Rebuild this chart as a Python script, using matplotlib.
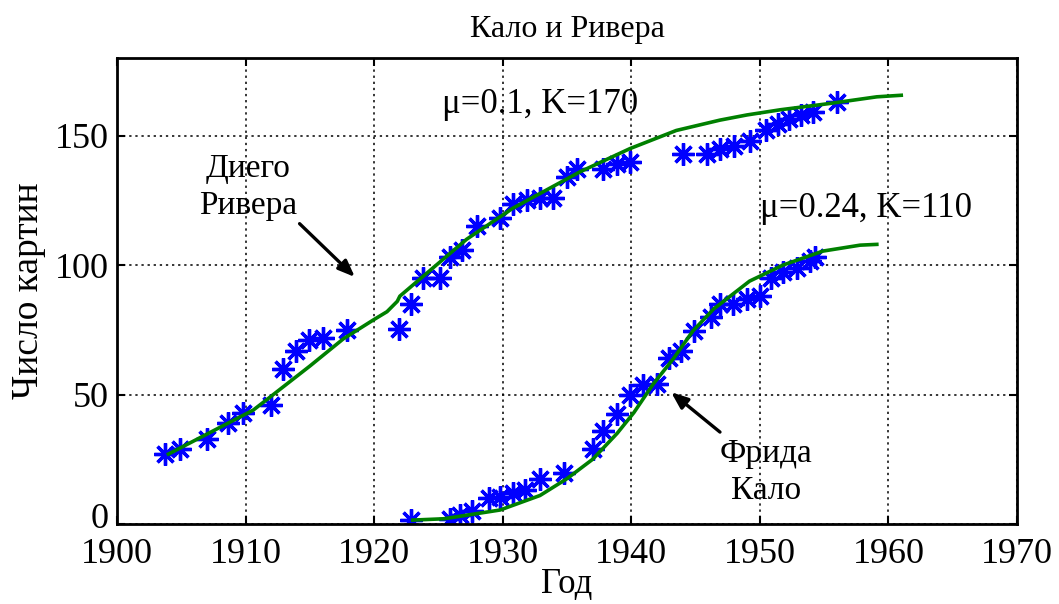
import numpy as np
import matplotlib
matplotlib.use("Agg")
import matplotlib.pyplot as plt
import matplotlib.transforms as mtransforms

plt.rcParams['font.family'] = ['Liberation Serif', 'DejaVu Serif']

# Диего Ривера: число картин по годам
rivera_years = [1903.7, 1904.9, 1907.0, 1908.6, 1909.8, 1912.0, 1912.9, 1913.9, 1914.9,
                1916.0, 1917.9, 1921.9, 1922.9, 1923.8, 1925.1, 1925.9, 1926.8, 1928.0,
                1929.8, 1930.8, 1931.9, 1932.9, 1933.9, 1935.0, 1935.8, 1937.8, 1938.9,
                1939.9, 1944.0, 1945.9, 1946.9, 1948.0, 1949.2, 1950.5, 1951.4, 1952.3,
                1953.2, 1954.1, 1956.0]
rivera_count = [27, 29, 33, 39, 43, 46, 60, 67, 71,
                72, 75, 75.5, 85, 95, 95, 103, 106, 115,
                118, 123.5, 125, 126, 126, 134, 137, 137, 139,
                140, 143, 143, 145, 146, 148, 152, 154.5, 156.5,
                158, 159, 163]

# модель для Риверы
rivera_fit_x = [1904.0, 1910.6, 1911.9, 1915.0, 1917.6, 1920.0, 1921.0, 1921.8, 1922.0,
                1924.6, 1927.2, 1930.8, 1936.0, 1939.9, 1943.5, 1946.9, 1949.0, 1951.6,
                1955.4, 1959.1, 1961.0]
rivera_fit_y = [27, 44, 49, 61, 71.5, 79, 82, 86, 88,
                99, 110, 122, 136, 145, 152, 156, 158, 160,
                162.4, 165, 165.6]

# Фрида Кало
kahlo_years = [1922.9, 1925.9, 1926.7, 1927.6, 1928.9, 1929.8, 1930.8, 1931.7, 1932.9,
               1934.8, 1937.0, 1937.8, 1938.9, 1939.9, 1940.9, 1942.0, 1942.9, 1943.9,
               1944.9, 1946.2, 1946.9, 1947.9, 1949.0, 1950.0, 1950.9, 1951.8, 1952.9,
               1953.9, 1954.3]
kahlo_count = [1.5, 2, 3.5, 5, 10, 10.5, 12, 13, 17.5,
               19.5, 29, 36, 42.5, 50, 53.5, 54, 64, 67,
               74.5, 80, 85, 85, 87, 88, 95, 97.5, 99,
               101.5, 103]

kahlo_fit_x = [1923.0, 1925.4, 1929.8, 1932.9, 1935.0, 1937.0, 1938.9, 1940.2, 1941.7,
               1943.3, 1944.8, 1946.4, 1949.2, 1951.8, 1954.9, 1957.8, 1959.1]
kahlo_fit_y = [1.5, 2, 5.4, 11, 17.5, 25, 35, 43, 54,
               64, 74.6, 83, 93.8, 100, 105.4, 107.7, 108]

fig = plt.figure(figsize=(10.59, 6.04), dpi=100)
ax = fig.add_axes([0.1105, 0.1325, 0.8498, 0.7715])

star = (8, 2, 0)
ax.plot(rivera_years, rivera_count, linestyle='none', marker=star, color='#0000ff',
        markersize=16, markeredgewidth=2.4)
ax.plot(kahlo_years, kahlo_count, linestyle='none', marker=star, color='#0000ff',
        markersize=16, markeredgewidth=2.4)
ax.plot(rivera_fit_x, rivera_fit_y, color='#008000', lw=2.6)
ax.plot(kahlo_fit_x, kahlo_fit_y, color='#008000', lw=2.6)

ax.set_xlim(1900, 1970)
ax.set_ylim(0, 180)
ax.set_xticks(range(1900, 1971, 10))
ax.set_yticks([0, 50, 100, 150])
ax.grid(True, color='black', linestyle=(0, (1.5, 2.5)), linewidth=1.1)
ax.tick_params(direction='in', top=True, right=True, length=6, width=1.5,
               labelsize=26)
ax.tick_params(axis='x', pad=10)
ax.tick_params(axis='y', pad=6)
for s in ax.spines.values():
    s.set_linewidth(2)

# подпись "0" чуть выше, чтобы не налезала на "1900"
fig.canvas.draw()
zero = ax.get_yticklabels()[0]
zero.set_transform(zero.get_transform() +
                   mtransforms.ScaledTranslation(0, 6 / 72, fig.dpi_scale_trans))

ax.set_title('Кало и Ривера', fontsize=23, pad=15)
ax.set_xlabel('Год', fontsize=25, labelpad=-2)
ax.set_ylabel('Число картин', fontsize=27, labelpad=6)

ax.text(1925.3, 162, 'μ=0.1, K=170', fontsize=25, va='center', ha='left')
ax.text(1950.0, 122, 'μ=0.24, K=110', fontsize=25, va='center', ha='left')
ax.text(1910.2, 130, 'Диего\nРивера', fontsize=24, va='center', ha='center',
        linespacing=1.3)
ax.text(1950.5, 20, 'Фрида\nКало', fontsize=24, va='center', ha='center',
        linespacing=1.3)

arrow = dict(arrowstyle='-|>,head_length=1.0,head_width=0.4', color='black', lw=2.4,
             shrinkA=0, shrinkB=0)
ax.annotate('', xy=(1918.5, 95.4), xytext=(1914.2, 116), arrowprops=arrow)
ax.annotate('', xy=(1943.1, 50.9), xytext=(1946.9, 35.5), arrowprops=arrow)

fig.savefig('out.png', dpi=100)
